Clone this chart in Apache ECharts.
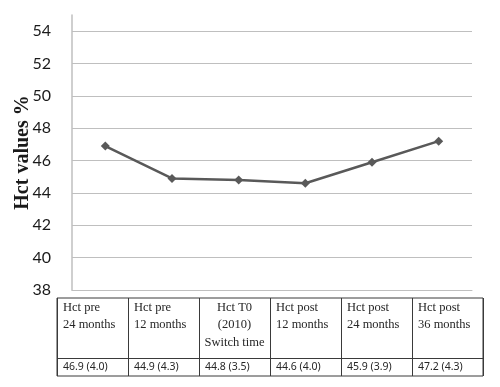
<!DOCTYPE html>
<html>
<head>
<meta charset="utf-8">
<script src="https://cdn.jsdelivr.net/npm/echarts@6/dist/echarts.min.js"></script>
<style>html,body{margin:0;padding:0;background:#fff}#c{width:500px;height:387px}</style>
</head>
<body>
<div id="c"></div>
<script>
var categories = ['Hct pre 24 months', 'Hct pre 12 months', 'Hct T0 (2010) Switch time', 'Hct post 12 months', 'Hct post 24 months', 'Hct post 36 months'];
var headerLines = [
  ['Hct pre', '24 months'],
  ['Hct pre', '12 months'],
  ['Hct T0', '(2010)', 'Switch time'],
  ['Hct post', '12 months'],
  ['Hct post', '24 months'],
  ['Hct post', '36 months']
];
var hctMean = [46.9, 44.9, 44.8, 44.6, 45.9, 47.2];
var hctSD = [4.0, 4.3, 3.5, 4.0, 3.9, 4.3];
var valueLabels = hctMean.map(function (m, i) { return m.toFixed(1) + ' (' + hctSD[i].toFixed(1) + ')'; });
var yTicks = { min: 38, max: 55, interval: 2 };

var chart = echarts.init(document.getElementById('c'), null, { renderer: 'canvas' });
var gray = '#bfbfbf';
var border = '#3a3a3a';
chart.setOption({
  animation: false,
  backgroundColor: '#fff',
  grid: [
    { left: 72, right: 28, top: 15, bottom: 97, containLabel: false, outerBoundsMode: 'none' },
    { left: 57, right: 17, top: 298, bottom: 11, containLabel: false, outerBoundsMode: 'none', show: true, borderColor: border, borderWidth: 1, backgroundColor: 'transparent' }
  ],
  xAxis: [
    {
      gridIndex: 0, type: 'category', data: categories, boundaryGap: true,
      axisLine: { show: true, lineStyle: { color: gray, width: 1 } },
      axisTick: { show: false }, axisLabel: { show: false }, splitLine: { show: false }
    },
    {
      gridIndex: 1, type: 'category', position: 'top', data: categories, boundaryGap: true,
      axisLine: { show: false }, axisTick: { show: false },
      splitLine: { show: true, lineStyle: { color: border, width: 1 } },
      axisLabel: {
        inside: true, margin: 1, interval: 0,
        formatter: function (v, i) {
          var lines = headerLines[i];
          var key = lines.length > 2 ? 'c' : 'h';
          return lines.map(function (l) { return '{' + key + '|' + l + '}'; }).join('\n');
        },
        rich: {
          h: { fontFamily: 'Liberation Serif', fontSize: 12.5, lineHeight: 17.3, width: 59, align: 'left', color: '#262626' },
          c: { fontFamily: 'Liberation Serif', fontSize: 12.5, lineHeight: 17.3, width: 59, align: 'center', color: '#262626' }
        }
      }
    },
    {
      gridIndex: 1, type: 'category', position: 'bottom', data: valueLabels, boundaryGap: true,
      axisLine: { show: false }, axisTick: { show: false }, splitLine: { show: false },
      axisLabel: {
        inside: true, margin: 2, interval: 0,
        formatter: function (v) { return '{v|' + v + '}'; },
        rich: { v: { fontFamily: 'Noto Sans', fontSize: 10.5, lineHeight: 14, width: 59, align: 'left', color: '#262626' } }
      }
    }
  ],
  yAxis: [
    {
      gridIndex: 0, type: 'value', min: yTicks.min, max: yTicks.max, interval: yTicks.interval,
      name: 'Hct values %', nameLocation: 'middle', nameGap: 39, nameRotate: 90, nameMoveOverlap: false,
      nameTextStyle: { fontFamily: 'Liberation Serif', fontWeight: 'bold', fontSize: 20, color: '#1a1a1a' },
      axisLine: { show: true, lineStyle: { color: gray, width: 1.5 } },
      axisTick: { show: false },
      axisLabel: { showMaxLabel: false, margin: 21, fontFamily: 'Lato', fontSize: 16, color: '#1a1a1a' },
      splitLine: { show: true, showMaxLine: false, lineStyle: { color: gray, width: 1 } }
    },
    {
      gridIndex: 1, type: 'value', inverse: true, min: -60, max: 18, interval: 60,
      axisLine: { show: false }, axisTick: { show: false }, axisLabel: { show: false },
      splitLine: { show: true, showMinLine: false, showMaxLine: false, lineStyle: { color: border, width: 1 } }
    }
  ],
  series: [
    {
      type: 'line', xAxisIndex: 0, yAxisIndex: 0, data: hctMean,
      symbol: 'diamond', symbolSize: 9,
      itemStyle: { color: '#595959' },
      lineStyle: { color: '#595959', width: 2.5 }
    }
  ]
});
</script>
</body>
</html>
